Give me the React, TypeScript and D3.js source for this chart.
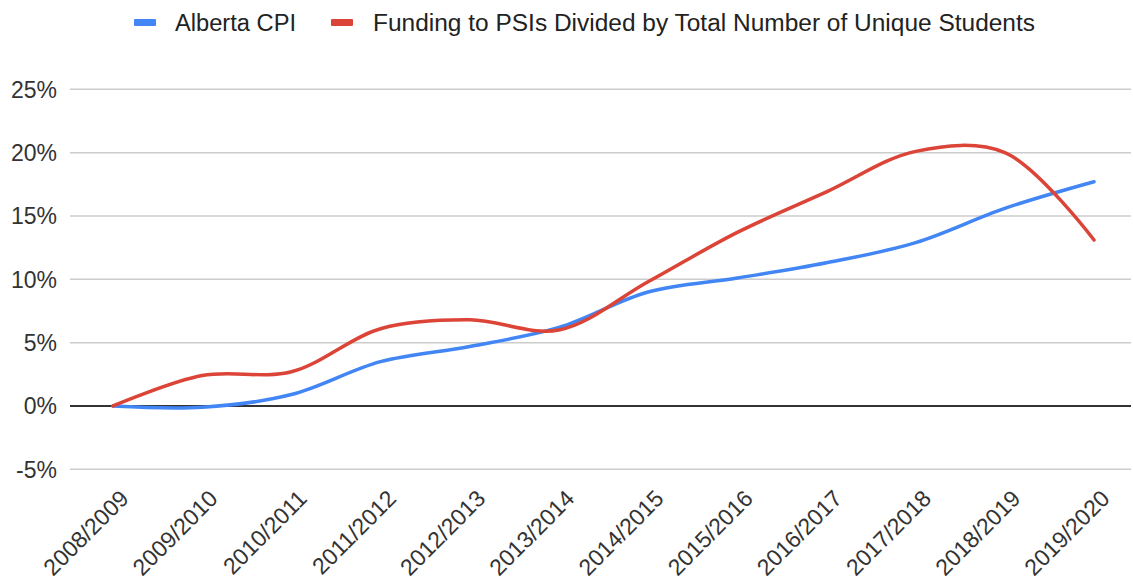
import React from "react";
import * as d3 from "d3";

const categories = [
  "2008/2009", "2009/2010", "2010/2011", "2011/2012", "2012/2013", "2013/2014",
  "2014/2015", "2015/2016", "2016/2017", "2017/2018", "2018/2019", "2019/2020",
];
const cpiValues = [0, -0.1, 0.9, 3.5, 4.7, 6.2, 9.0, 10.1, 11.3, 12.9, 15.6, 17.7];
const fundingValues = [0, 2.4, 2.7, 6.1, 6.8, 6.0, 9.8, 13.7, 16.9, 20.1, 20.0, 13.1];
const yTicks = [-5, 0, 5, 10, 15, 20, 25];
const seriesNames = ["Alberta CPI", "Funding to PSIs Divided by Total Number of Unique Students"];
const seriesColors = ["#4285f4", "#db4437"];

const W = 1133;
const H = 583;
const FONT = "'Liberation Sans', Arial, sans-serif";

export default function App() {
  const x = d3.scalePoint<string>().domain(categories).range([113, 1094]);
  const y = d3.scaleLinear().domain([-5, 25]).range([469.3, 89.3]);

  const line = d3
    .line<number>()
    .x((_, i) => x(categories[i]) as number)
    .y((v) => y(v))
    .curve(d3.curveCatmullRom.alpha(0.5));

  const series = [cpiValues, fundingValues];
  const gridX0 = 70;
  const gridX1 = 1131;

  const legendItems = [
    { swatchX: 134, textX: 175, len: 121 },
    { swatchX: 331, textX: 373, len: 662 },
  ];

  return (
    <svg
      width={W}
      height={H}
      style={{ position: "absolute", left: 0, top: 0, background: "#fff" }}
      fontFamily={FONT}
    >
      {/* legend */}
      {seriesNames.map((name, i) => (
        <g key={name}>
          <rect x={legendItems[i].swatchX} y={19} width={22} height={7} rx={1} fill={seriesColors[i]} />
          <text
            x={legendItems[i].textX}
            y={31}
            fontSize={23}
            fill="#222"
            textLength={legendItems[i].len}
            lengthAdjust="spacingAndGlyphs"
          >
            {name}
          </text>
        </g>
      ))}

      {/* gridlines */}
      {yTicks.map((t) => (
        <g key={t}>
          {t !== 0 && (
            <line x1={gridX0} x2={gridX1} y1={y(t)} y2={y(t)} stroke="#cccccc" strokeWidth={1.5} />
          )}
          <text
            x={57}
            y={y(t)}
            dy="0.36em"
            textAnchor="end"
            fontSize={23}
            fill="#333"
          >
            {`${t}%`}
          </text>
        </g>
      ))}
      <line x1={gridX0} x2={gridX1} y1={y(0)} y2={y(0)} stroke="#333" strokeWidth={2} />

      {/* series */}
      {series.map((vals, i) => (
        <path
          key={i}
          d={line(vals) || ""}
          fill="none"
          stroke={seriesColors[i]}
          strokeWidth={3.5}
          strokeLinejoin="round"
          strokeLinecap="round"
        />
      ))}

      {/* x labels */}
      {categories.map((c) => {
        const cx = (x(c) as number) + 17;
        const cy = 500;
        return (
          <text
            key={c}
            x={cx}
            y={cy}
            textAnchor="end"
            fontSize={23}
            fill="#333"
            transform={`rotate(-45 ${cx} ${cy})`}
          >
            {c}
          </text>
        );
      })}
    </svg>
  );
}
